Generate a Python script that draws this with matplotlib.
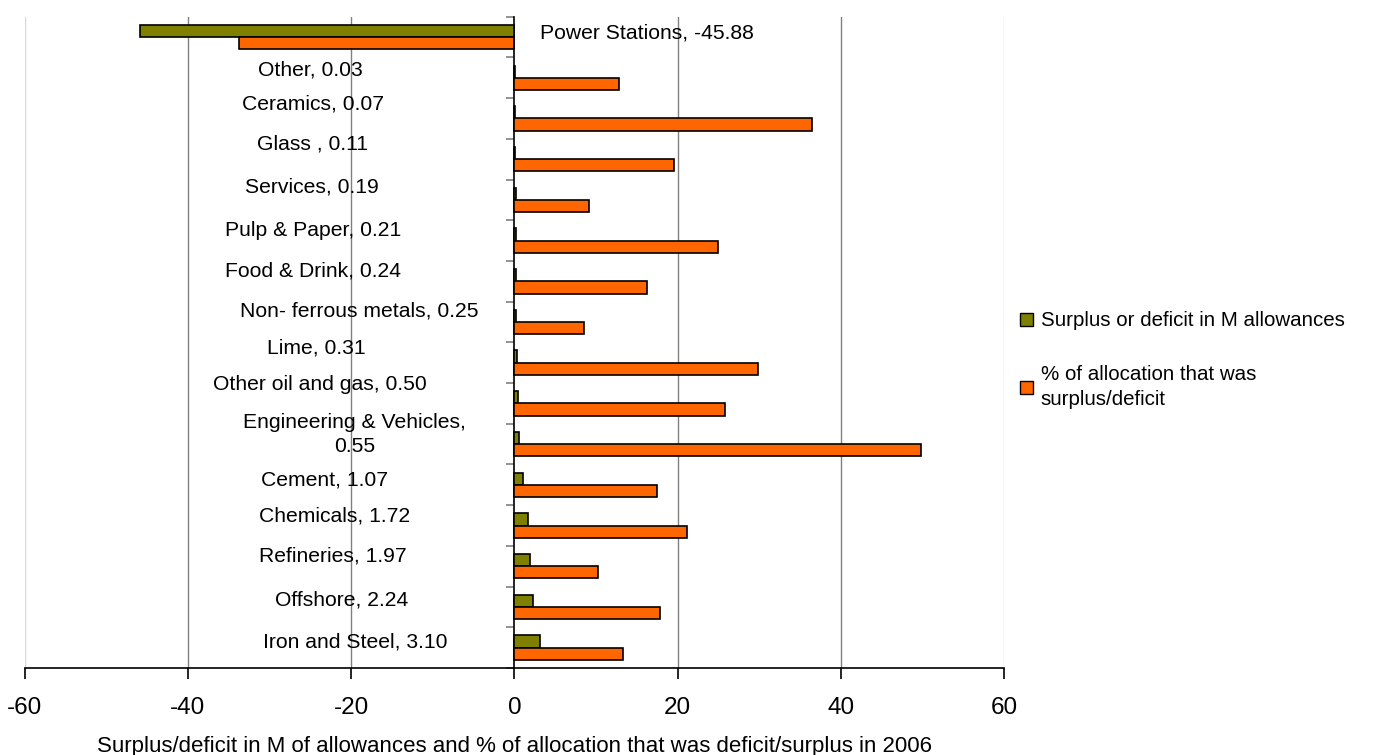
import numpy as np
import matplotlib.pyplot as plt
from matplotlib.patches import Patch

plt.rcParams['font.family'] = ['Liberation Sans', 'DejaVu Sans']

sectors = ["Power Stations", "Other", "Ceramics", "Glass ", "Services", "Pulp & Paper",
           "Food & Drink", "Non- ferrous metals", "Lime", "Other oil and gas",
           "Engineering & Vehicles,\n", "Cement", "Chemicals", "Refineries", "Offshore",
           "Iron and Steel"]
surplus = [-45.88, 0.03, 0.07, 0.11, 0.19, 0.21, 0.24, 0.25, 0.31, 0.50, 0.55,
           1.07, 1.72, 1.97, 2.24, 3.10]
pct_alloc = [-33.8, 12.8, 36.5, 19.6, 9.2, 25.0, 16.2, 8.5, 29.8, 25.8, 49.8,
             17.5, 21.1, 10.2, 17.9, 13.3]

# hand-placed data labels (as in the original sheet)
label_x = [16.2, -25.0, -24.7, -24.8, -24.8, -24.7, -24.7, -19.0, -24.3, -23.8,
           -19.6, -23.3, -22.0, -22.3, -21.2, -19.5]
label_dy = [-0.10, -0.19, -0.35, -0.37, -0.32, -0.24, -0.25, -0.27, -0.36, -0.47,
            -0.24, -0.12, -0.23, -0.25, -0.17, -0.14]

OLIVE = '#808000'
ORANGE = '#FF6600'

fig = plt.figure(figsize=(13.76, 7.55), dpi=100)
ax = fig.add_axes([0.018, 0.1152, 0.7117, 0.8627])

y = np.arange(len(sectors))
h = 0.3
ax.barh(y - h / 2, surplus, height=h, color=OLIVE, edgecolor='black', linewidth=1.2, zorder=3)
ax.barh(y + h / 2, pct_alloc, height=h, color=ORANGE, edgecolor='black', linewidth=1.2, zorder=3)

for i, name in enumerate(sectors):
    sep = '' if name.endswith('\n') else ', '
    ax.text(label_x[i], y[i] + label_dy[i], f"{name}{sep}{surplus[i]:.2f}",
            ha='center', va='center', fontsize=15.2, zorder=4, linespacing=1.3)

ax.set_xlim(-60, 60)
ax.set_ylim(len(sectors) - 0.5, -0.5)
ax.set_xticks(np.arange(-60, 61, 20))
ax.set_xticklabels([f"{v}" for v in range(-60, 61, 20)], fontsize=17.5)
ax.tick_params(axis='x', direction='out', length=8, width=1.2, pad=13)

for v in (-40, -20, 20, 40):
    ax.axvline(v, color='#808080', linewidth=1, zorder=1)

# category axis sits at x = 0
ax.spines['left'].set_position(('data', 0))
ax.spines['left'].set_linewidth(1.2)
ax.set_yticks(np.arange(-0.5, len(sectors), 1.0))
ax.set_yticklabels([])
ax.tick_params(axis='y', direction='out', length=6, width=1.2, color='#808080')
ax.spines['bottom'].set_linewidth(1.2)
ax.spines['top'].set_visible(False)
ax.spines['right'].set_visible(False)
ax.axvline(-60, color='#D9D9D9', linewidth=1, zorder=0)
ax.axvline(60, color='#D9D9D9', linewidth=1, zorder=0)

ax.set_xlabel("Surplus/deficit in M of allowances and % of allocation that was deficit/surplus in 2006",
              fontsize=16, labelpad=12)

handles = [Patch(facecolor=OLIVE, edgecolor='black'), Patch(facecolor=ORANGE, edgecolor='black')]
leg = fig.legend(handles, ["Surplus or deficit in M allowances", "% of allocation that was\nsurplus/deficit"],
                 loc='upper left', bbox_to_anchor=(0.728, 0.612), frameon=False, fontsize=14.8,
                 handlelength=0.6, handleheight=0.6, handletextpad=0.4, labelspacing=1.7)
for t in leg.get_texts():
    t.set_linespacing(1.4)

plt.savefig("out.png", dpi=100)
plt.close()
